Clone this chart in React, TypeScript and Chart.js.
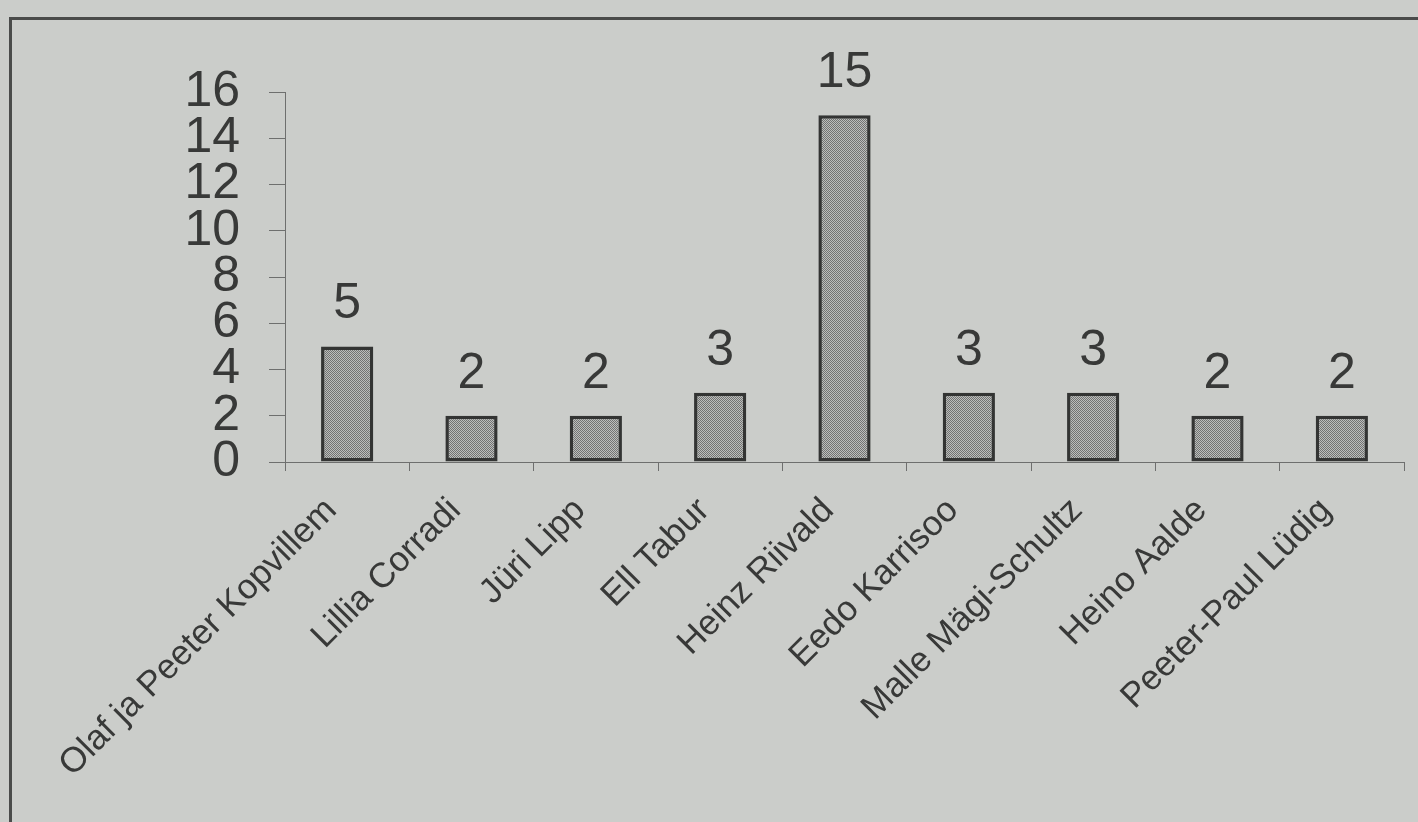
import React, { useEffect, useRef } from "react";
import { Chart, registerables } from "chart.js";

Chart.register(...registerables);

const categories: string[] = [
  "Olaf ja Peeter Kopvillem",
  "Lillia Corradi",
  "Jüri Lipp",
  "Ell Tabur",
  "Heinz Riivald",
  "Eedo Karrisoo",
  "Malle Mägi-Schultz",
  "Heino Aalde",
  "Peeter-Paul Lüdig",
];
const values: number[] = [5, 2, 2, 3, 15, 3, 3, 2, 2];
const yTicks: number[] = [0, 2, 4, 6, 8, 10, 12, 14, 16];

const FONT = "'Liberation Sans', Arial, Helvetica, sans-serif";
const TEXT = "#383938";
const AXIS = "#6e6f6e";
const BG = "#cbcdca";

function makePattern(ctx: CanvasRenderingContext2D): CanvasPattern | string {
  const c = document.createElement("canvas");
  c.width = 2;
  c.height = 2;
  const p = c.getContext("2d");
  if (!p) return "#989998";
  p.fillStyle = "#bcbebc";
  p.fillRect(0, 0, 2, 2);
  p.fillStyle = "#727372";
  p.fillRect(0, 0, 1, 1);
  p.fillRect(1, 1, 1, 1);
  return ctx.createPattern(c, "repeat") || "#989998";
}

const valueLabels = {
  id: "valueLabels",
  afterDatasetsDraw(chart: any) {
    const ctx = chart.ctx as CanvasRenderingContext2D;
    const meta = chart.getDatasetMeta(0);
    ctx.save();
    ctx.fillStyle = TEXT;
    ctx.font = `50px ${FONT}`;
    ctx.textAlign = "center";
    ctx.textBaseline = "alphabetic";
    meta.data.forEach((el: any, i: number) => {
      ctx.fillText(String(values[i]), el.x, el.y - 28);
    });
    ctx.restore();
  },
};

export default function App() {
  const ref = useRef<HTMLCanvasElement | null>(null);

  useEffect(() => {
    const canvas = ref.current;
    if (!canvas) return;
    const ctx = canvas.getContext("2d");
    if (!ctx) return;
    const pattern = makePattern(ctx);
    const chart = new Chart(ctx, {
      type: "bar",
      data: {
        labels: categories,
        datasets: [
          {
            data: values,
            backgroundColor: pattern as any,
            borderColor: "#333433",
            borderWidth: 3.5,
            borderSkipped: false,
            categoryPercentage: 1,
            barPercentage: 0.42,
          },
        ],
      },
      options: {
        animation: false,
        responsive: false,
        devicePixelRatio: 1,
        layout: { padding: { left: 0, top: 92, right: 14, bottom: 0 } },
        plugins: {
          legend: { display: false },
          tooltip: { enabled: false },
        },
        scales: {
          x: {
            grid: {
              offset: true,
              drawOnChartArea: false,
              drawTicks: true,
              tickLength: 9,
              color: AXIS,
              lineWidth: 1,
            },
            border: { display: true, color: AXIS, width: 1 },
            ticks: {
              autoSkip: false,
              maxRotation: 45,
              minRotation: 45,
              padding: 19,
              labelOffset: -16,
              color: TEXT,
              font: { family: FONT, size: 35 },
            },
            afterFit: (scale: any) => {
              scale.height = 360;
            },
          },
          y: {
            min: 0,
            max: 16,
            afterBuildTicks: (scale: any) => {
              scale.ticks = yTicks.map((v) => ({ value: v }));
            },
            grid: {
              drawOnChartArea: false,
              drawTicks: true,
              tickLength: 16,
              color: AXIS,
              lineWidth: 1,
            },
            border: { display: true, color: AXIS, width: 1 },
            ticks: {
              autoSkip: false,
              padding: 29,
              color: TEXT,
              font: { family: FONT, size: 50, lineHeight: 1 },
            },
            afterFit: (scale: any) => {
              scale.width = 285;
            },
          },
        },
      },
      plugins: [valueLabels],
    });
    return () => chart.destroy();
  }, []);

  return (
    <div
      style={{
        position: "fixed",
        left: 0,
        top: 0,
        width: 1418,
        height: 822,
        overflow: "hidden",
        background: BG,
      }}
    >
      <div
        style={{
          position: "absolute",
          left: 9,
          top: 17,
          width: 1500,
          height: 900,
          border: "3px solid #4a4b4a",
        }}
      />
      <canvas
        ref={ref}
        width={1418}
        height={822}
        style={{ position: "absolute", left: 0, top: 0, width: 1418, height: 822 }}
      />
    </div>
  );
}
